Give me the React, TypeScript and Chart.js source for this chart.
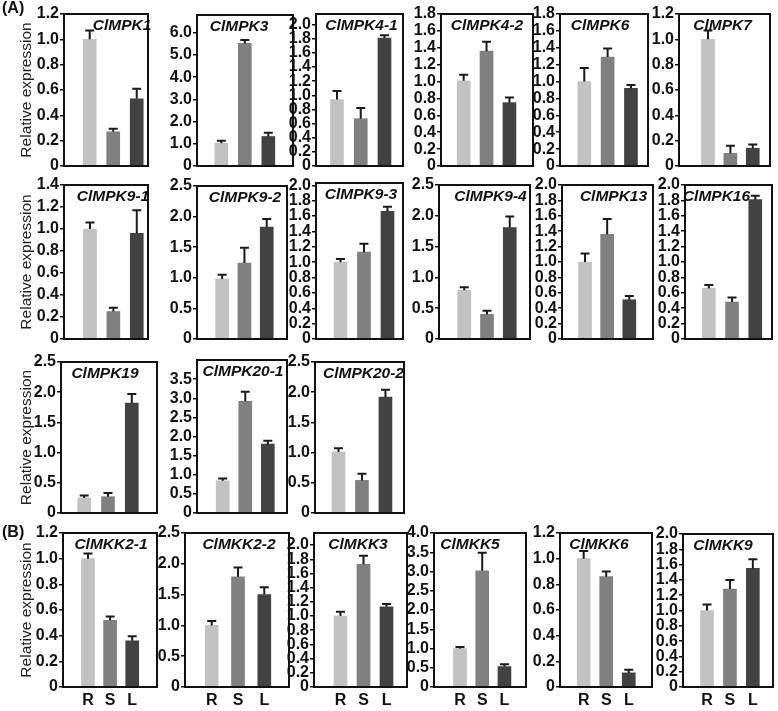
import React, { useEffect, useRef } from "react";
import { Chart, registerables } from "chart.js";

Chart.register(...registerables);

// ---------- DATA ----------
const GENES = [
  "ClMPK1", "ClMPK3", "ClMPK4-1", "ClMPK4-2", "ClMPK6", "ClMPK7",
  "ClMPK9-1", "ClMPK9-2", "ClMPK9-3", "ClMPK9-4", "ClMPK13", "ClMPK16",
  "ClMPK19", "ClMPK20-1", "ClMPK20-2",
  "ClMKK2-1", "ClMKK2-2", "ClMKK3", "ClMKK5", "ClMKK6", "ClMKK9",
];
const TISSUES = ["R", "S", "L"];

const R_MEAN = [1.0, 1.03, 0.94, 1.01, 1.0, 1.0, 1.0, 0.98, 1.0, 0.79, 1.0, 0.66, 0.25, 0.84, 1.01, 1.0, 1.0, 1.0, 1.0, 1.0, 1.0];
const R_ERR = [0.07, 0.11, 0.12, 0.07, 0.16, 0.07, 0.06, 0.07, 0.04, 0.05, 0.11, 0.04, 0.04, 0.06, 0.06, 0.04, 0.07, 0.06, 0.04, 0.06, 0.08];
const S_MEAN = [0.27, 5.52, 0.67, 1.36, 1.29, 0.1, 0.25, 1.24, 1.13, 0.4, 1.36, 0.48, 0.27, 2.92, 0.54, 0.52, 1.79, 1.73, 3.02, 0.86, 1.28];
const S_ERR = [0.025, 0.15, 0.15, 0.11, 0.1, 0.06, 0.035, 0.25, 0.11, 0.06, 0.2, 0.06, 0.06, 0.25, 0.11, 0.03, 0.15, 0.12, 0.47, 0.04, 0.12];
const L_MEAN = [0.53, 1.33, 1.81, 0.75, 0.92, 0.14, 0.96, 1.83, 1.66, 1.81, 0.51, 1.81, 1.82, 1.8, 1.92, 0.36, 1.5, 1.13, 0.53, 0.11, 1.55];
const L_ERR = [0.08, 0.17, 0.04, 0.06, 0.04, 0.03, 0.21, 0.13, 0.06, 0.18, 0.05, 0.05, 0.15, 0.09, 0.12, 0.035, 0.12, 0.04, 0.06, 0.025, 0.12];

const Y_MAX = [1.2, 6.8, 2.15, 1.8, 1.8, 1.2, 1.4, 2.5, 2.03, 2.5, 2.0, 2.0, 2.5, 4.0, 2.5, 1.2, 2.5, 2.17, 4.0, 1.2, 2.0];
const Y_STEP = [0.2, 1, 0.2, 0.2, 0.2, 0.2, 0.2, 0.5, 0.2, 0.5, 0.2, 0.2, 0.5, 0.5, 0.5, 0.2, 0.5, 0.2, 0.5, 0.2, 0.2];
const Y_TOP_TICK = [1.2, 6, 2.0, 1.8, 1.8, 1.2, 1.4, 2.5, 2.0, 2.5, 2.0, 2.0, 2.5, 3.5, 2.5, 1.2, 2.5, 2.0, 4.0, 1.2, 2.0];

// ---------- LAYOUT (positions / styles) ----------
// frame: [left, top, right, bottom]
const FRAMES: number[][] = [
  [64, 14, 148, 166], [197, 15, 293, 166], [316, 14, 403, 166], [441, 14, 533, 166], [560, 14, 648, 166], [679, 14, 770, 166],
  [64, 185, 148, 339], [197, 186, 287, 339], [316, 183, 403, 339], [439, 185, 530, 339], [562, 185, 653, 339], [685, 185, 772, 339],
  [61, 362, 157, 513], [197, 360, 287, 513], [315, 362, 404, 513],
  [63, 533, 157, 687], [185, 533, 289, 687], [314, 533, 407, 687], [434, 533, 526, 687], [560, 533, 652, 687], [683, 534, 773, 687],
];
const X_RANGE: number[][] = [
  [-0.094, 3.48], [-0.034, 4.05], [0.116, 3.78], [0.009, 4.03], [-0.04, 3.73], [-0.295, 3.77],
  [-0.11, 3.48], [-0.13, 3.91], [-0.04, 3.66], [-0.11, 3.89], [-0.04, 4.07], [-0.026, 3.72],
  [0.025, 4.06], [-0.14, 3.85], [0.0, 3.79],
  [-0.13, 4.12], [-0.017, 3.94], [-0.15, 3.89], [-0.17, 3.97], [-0.05, 4.03], [-0.05, 3.88],
];
const NAME_DX = [16, -6, 2, 0, -4, -2, 7, 3, 1.5, 6, 6, -12, -4, 1, 4, 1, 2, -2.5, -10, -7, -5];
const FIRST_COL = [0, 6, 12, 15];
const COLORS = ["#c2c2c2", "#808080", "#424242"];
const FONT = '"Liberation Sans", Arial, Helvetica, sans-serif';
const PAGE_H = 711;

function Panel({ i }: { i: number }) {
  const ref = useRef<HTMLCanvasElement | null>(null);
  const isB = i >= 15;
  const first = FIRST_COL.includes(i);
  const [fl, ft, fr, fb] = FRAMES[i];
  const cLeft = first ? 17 : fl - 46;
  const cTop = ft - 12;
  const cBottom = isB ? PAGE_H : fb + 12;
  const w = fr + 3 - cLeft;
  const h = cBottom - cTop;

  useEffect(() => {
    if (!ref.current) return;
    const means = [R_MEAN[i], S_MEAN[i], L_MEAN[i]];
    const errs = [R_ERR[i], S_ERR[i], L_ERR[i]];
    const yTicks: number[] = [];
    const n = Math.round(Y_TOP_TICK[i] / Y_STEP[i]);
    for (let k = 0; k <= n; k++) yTicks.push(Number((k * Y_STEP[i]).toFixed(2)));

    const decor = {
      id: "decor" + i,
      afterDatasetsDraw(chart: any) {
        const ctx = chart.ctx;
        const ys = chart.scales.y;
        const meta = chart.getDatasetMeta(0);
        ctx.save();
        ctx.strokeStyle = "#1a1a1a";
        ctx.lineWidth = 2;
        meta.data.forEach((el: any, k: number) => {
          const yTop = ys.getPixelForValue(means[k] + errs[k]);
          const yBar = ys.getPixelForValue(means[k]);
          ctx.beginPath();
          ctx.moveTo(el.x, yBar);
          ctx.lineTo(el.x, yTop);
          ctx.moveTo(el.x - 4.5, yTop);
          ctx.lineTo(el.x + 4.5, yTop);
          ctx.stroke();
        });
        ctx.restore();
      },
      afterDraw(chart: any) {
        const ctx = chart.ctx;
        const a = chart.chartArea;
        ctx.save();
        ctx.strokeStyle = "#111";
        ctx.lineWidth = 2;
        ctx.strokeRect(a.left, a.top, a.right - a.left, a.bottom - a.top);
        ctx.fillStyle = "#111";
        ctx.font = `italic bold 15.5px ${FONT}`;
        ctx.textAlign = "center";
        ctx.textBaseline = "middle";
        ctx.fillText(GENES[i], (a.left + a.right) / 2 + NAME_DX[i], a.top + 12);
        ctx.restore();
      },
    };

    const chart = new Chart(ref.current, {
      type: "bar",
      data: {
        datasets: [
          {
            data: TISSUES.map((t, k) => ({ x: k + 1, y: means[k] })),
            backgroundColor: COLORS,
            borderWidth: 0,
            barThickness: 13,
          },
        ],
      },
      options: {
        animation: false,
        responsive: false,
        devicePixelRatio: 1,
        events: [],
        layout: { padding: { top: 12, bottom: isB ? 0 : 12, left: 0, right: 3 } },
        plugins: { legend: { display: false }, tooltip: { enabled: false }, title: { display: false } },
        scales: {
          x: {
            type: "linear",
            min: X_RANGE[i][0],
            max: X_RANGE[i][1],
            display: isB,
            offset: false,
            grid: { display: false, drawTicks: false, offset: false },
            border: { display: false },
            afterBuildTicks: (s: any) => {
              s.ticks = [1, 2, 3].map((v) => ({ value: v }));
            },
            afterFit: (s: any) => {
              if (isB) s.height = PAGE_H - fb;
            },
            ticks: {
              autoSkip: false,
              maxRotation: 0,
              padding: 4,
              color: "#111",
              font: { family: FONT, size: 16, weight: "bold" },
              callback: (v: any) => TISSUES[Math.round(Number(v)) - 1] ?? "",
            },
          },
          y: {
            type: "linear",
            min: 0,
            max: Y_MAX[i],
            afterBuildTicks: (s: any) => {
              s.ticks = yTicks.map((v) => ({ value: v }));
            },
            afterFit: (s: any) => {
              s.width = fl - cLeft;
            },
            ticks: {
              autoSkip: false,
              padding: 1,
              color: "#111",
              font: { family: FONT, size: 16, weight: "bold" },
              callback: (v: any) => (Number(v) === 0 ? "0" : Number(v).toFixed(1)),
            },
            grid: { drawOnChartArea: false, drawTicks: true, tickLength: 4, color: "#111", lineWidth: 1.5 },
            border: { display: false },
            title: first
              ? {
                  display: true,
                  text: "Relative expression",
                  color: "#222",
                  font: { family: FONT, size: 15.5 },
                  padding: { top: 0, bottom: 0 },
                }
              : { display: false },
          },
        },
      } as any,
      plugins: [decor],
    });
    return () => chart.destroy();
  }, [i]);

  return (
    <canvas
      ref={ref}
      width={w}
      height={h}
      style={{ position: "absolute", left: cLeft, top: cTop, width: w, height: h }}
    />
  );
}

export default function App() {
  const label: React.CSSProperties = {
    position: "absolute",
    left: 2,
    font: `bold 16px ${FONT}`,
    lineHeight: "16px",
    color: "#111",
  };
  return (
    <div style={{ position: "absolute", left: 0, top: 0, width: 778, height: 711, background: "#fff", overflow: "hidden" }}>
      {GENES.map((g, i) => (
        <Panel key={g} i={i} />
      ))}
      <div style={{ ...label, top: 0 }}>(A)</div>
      <div style={{ ...label, top: 524 }}>(B)</div>
    </div>
  );
}
